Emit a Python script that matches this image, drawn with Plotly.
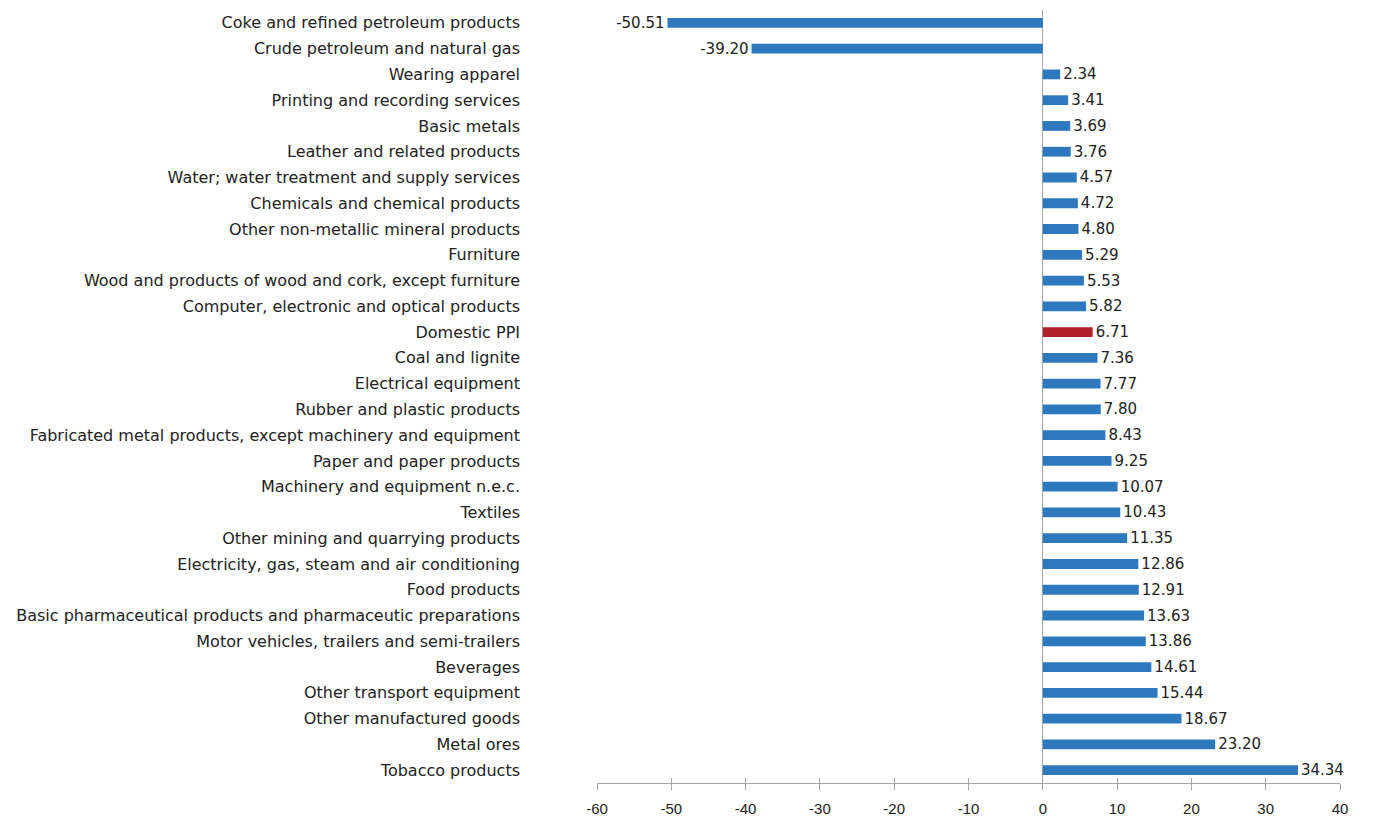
import plotly.graph_objects as go

categories = [
    "Coke and refined petroleum products",
    "Crude petroleum and natural gas",
    "Wearing apparel",
    "Printing and recording services",
    "Basic metals",
    "Leather and related products",
    "Water; water treatment and supply services",
    "Chemicals and chemical products",
    "Other non-metallic mineral products",
    "Furniture",
    "Wood and products of wood and cork, except furniture",
    "Computer, electronic and optical products",
    "Domestic PPI",
    "Coal and lignite",
    "Electrical equipment",
    "Rubber and plastic products",
    "Fabricated metal products, except machinery and equipment",
    "Paper and paper products",
    "Machinery and equipment n.e.c.",
    "Textiles",
    "Other mining and quarrying products",
    "Electricity, gas, steam and air conditioning",
    "Food products",
    "Basic pharmaceutical products and pharmaceutic preparations",
    "Motor vehicles, trailers and semi-trailers",
    "Beverages",
    "Other transport equipment",
    "Other manufactured goods",
    "Metal ores",
    "Tobacco products",
]
values = [-50.51, -39.20, 2.34, 3.41, 3.69, 3.76, 4.57, 4.72, 4.80, 5.29, 5.53, 5.82,
          6.71, 7.36, 7.77, 7.80, 8.43, 9.25, 10.07, 10.43, 11.35, 12.86, 12.91, 13.63,
          13.86, 14.61, 15.44, 18.67, 23.20, 34.34]
x_ticks = [-60, -50, -40, -30, -20, -10, 0, 10, 20, 30, 40]

BLUE = "#2E78BE"
RED = "#B0202A"
AXIS = "#A6A6A6"
colors = [RED if c == "Domestic PPI" else BLUE for c in categories]

fig = go.Figure(go.Bar(
    x=values, y=categories, orientation="h",
    marker=dict(color=colors, line=dict(width=0)),
    width=0.38,
    text=[f"{v:.2f}" for v in values],
    textposition="outside",
    constraintext="none",
    textfont=dict(family="DejaVu Sans", size=15, color="#222222"),
    cliponaxis=False,
))

fig.update_layout(
    width=1357, height=810,
    margin=dict(l=589, r=25, t=2, b=35),
    plot_bgcolor="white", paper_bgcolor="white",
    showlegend=False,
    font=dict(family="DejaVu Sans", size=15, color="#222222"),
    xaxis2=dict(
        overlaying="x", matches="x", side="bottom", anchor="y",
        range=[-60, 40], tickvals=x_ticks, showticklabels=False,
        ticks="inside", ticklen=5, tickcolor=AXIS, showgrid=False,
        zeroline=False, showline=False, automargin=False,
    ),
)
fig.layout.xaxis.update(
    range=[-60, 40], tickvals=x_ticks, ticktext=[str(t) for t in x_ticks],
    showgrid=False, showline=True, linecolor=AXIS, linewidth=1,
    ticks="outside", ticklen=6, tickcolor=AXIS,
    zeroline=True, zerolinecolor=AXIS, zerolinewidth=1,
    tickfont=dict(family="Liberation Sans", size=15, color="#222222"),
    ticklabelstandoff=6, automargin=False,
)
fig.update_yaxes(
    autorange="reversed", showgrid=False, showline=False,
    ticks="", ticklabelstandoff=76, automargin=False,
    tickfont=dict(family="DejaVu Sans", size=16, color="#222222"),
)
# invisible helper trace so the overlay axis renders its ticks
fig.add_trace(go.Scatter(x=[None], y=[None], xaxis="x2", yaxis="y",
                         showlegend=False, hoverinfo="skip"))

fig.write_html("out.html")
